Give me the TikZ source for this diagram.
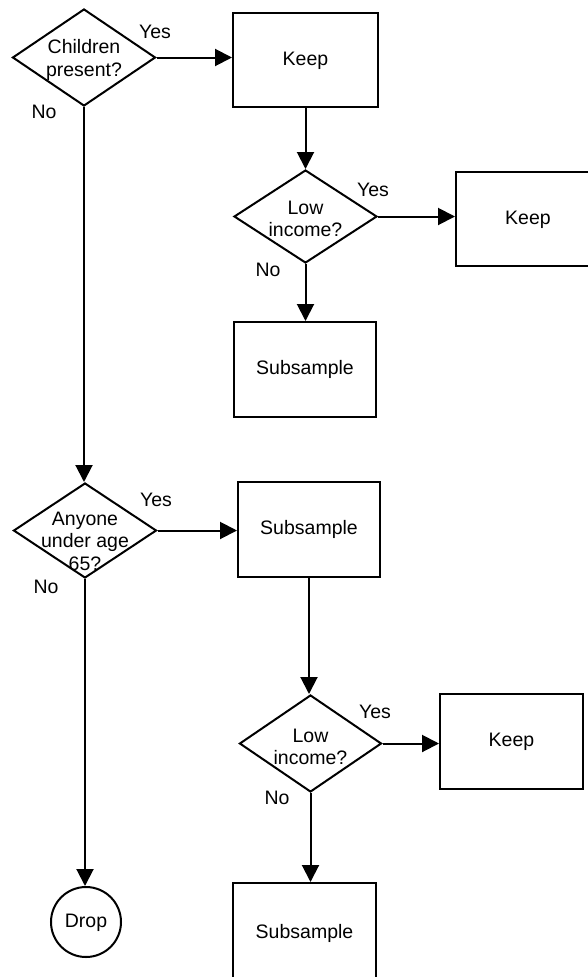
\documentclass[tikz,border=0pt]{standalone}
\usepackage{fontspec}
\setmainfont{Liberation Sans}
\usetikzlibrary{shapes.geometric,arrows.meta}
\begin{document}
\begin{tikzpicture}[x=1pt,y=-1pt,
  every node/.style={font=\fontsize{19.5}{22.5}\selectfont},
  box/.style={draw,line width=2pt,rectangle,inner sep=0pt,text height=10pt,text depth=0pt},
  dia/.style={draw,line width=2pt,diamond,inner sep=0pt},
  txt/.style={align=center,inner sep=0pt},
  lab/.style={inner sep=0pt},
  conn/.style={line width=2pt,-{Triangle[length=17pt,width=17pt]}}]
\fill[white] (0,0) rectangle (588,977);
\clip (0,0) rectangle (588,977);
% decision 1
\node[dia,minimum width=143pt,minimum height=97pt] (d1) at (84,57.5) {};
\node[txt] (t1) at (84,60) {Children\\present?};
\node[box,minimum width=145pt,minimum height=94pt] (k1) at (305.5,60) {Keep};
\node[dia,minimum width=143pt,minimum height=93pt] (d2) at (305.5,216.5) {};
\node[txt] (t2) at (305.5,219) {Low\\income?};
\node[box,minimum width=144pt,minimum height=94pt] (k2) at (528,219) {Keep};
\node[box,minimum width=142pt,minimum height=95pt] (s1) at (305,369.5) {Subsample};
% decision 2
\node[dia,minimum width=143pt,minimum height=95pt] (d3) at (85,530.5) {};
\node[txt] (t3) at (85,541) {Anyone\\under age\\65?};
\node[box,minimum width=142pt,minimum height=95pt] (s2) at (309,529.5) {Subsample};
\node[dia,minimum width=142pt,minimum height=97pt] (d4) at (310.5,743.5) {};
\node[txt] (t4) at (310.5,747) {Low\\income?};
\node[box,minimum width=143pt,minimum height=95pt] (k3) at (511.5,741.5) {Keep};
\node[draw,line width=2pt,circle,minimum size=70pt,inner sep=0pt,text height=10pt,text depth=0pt] (drop) at (86,922) {Drop};
\node[box,minimum width=143pt,minimum height=100pt] (s3) at (304.5,933) {Subsample};
% labels
\node[lab] (y1) at (155,32) {Yes};
\node[lab] (n1) at (44,112) {No};
\node[lab] (y2) at (373,190) {Yes};
\node[lab] (n2) at (268,270) {No};
\node[lab] (y3) at (156,500) {Yes};
\node[lab] (n3) at (46,587) {No};
\node[lab] (y4) at (375,712) {Yes};
\node[lab] (n4) at (277,798) {No};
% connectors
\draw[conn] (d1.east) -- (d1.east -| k1.west);
\draw[conn] (k1.south) -- (k1.south |- d2.north);
\draw[conn] (d2.east) -- (d2.east -| k2.west);
\draw[conn] (d2.south) -- (d2.south |- s1.north);
\draw[conn] (d1.south) -- (d1.south |- d3.north);
\draw[conn] (d3.east) -- (d3.east -| s2.west);
\draw[conn] (s2.south) -- (s2.south |- d4.north);
\draw[conn] (d4.east) -- (d4.east -| k3.west);
\draw[conn] (d4.south) -- (d4.south |- s3.north);
\draw[conn] (d3.south) -- (d3.south |- drop.north);
\end{tikzpicture}
\end{document}
